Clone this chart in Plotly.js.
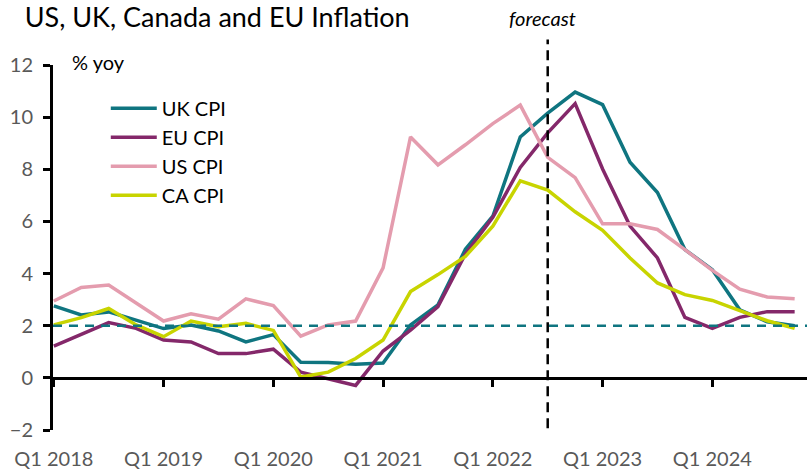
<!DOCTYPE html>
<html>
<head>
<meta charset="utf-8">
<script src="https://cdn.plot.ly/plotly-3.0.1.min.js"></script>
<style>
  html, body { margin: 0; padding: 0; background: #fff; }
  #graph { width: 808px; height: 471px; }
</style>
</head>
<body>
<div id="graph"></div>
<script>
var quarters = ['2018 Q1','2018 Q2','2018 Q3','2018 Q4',
                '2019 Q1','2019 Q2','2019 Q3','2019 Q4',
                '2020 Q1','2020 Q2','2020 Q3','2020 Q4',
                '2021 Q1','2021 Q2','2021 Q3','2021 Q4',
                '2022 Q1','2022 Q2','2022 Q3','2022 Q4',
                '2023 Q1','2023 Q2','2023 Q3','2023 Q4',
                '2024 Q1','2024 Q2','2024 Q3','2024 Q4'];

var tickQuarters = ['2018 Q1','2019 Q1','2020 Q1','2021 Q1','2022 Q1','2023 Q1','2024 Q1'];
var tickLabels = ['Q1 2018','Q1 2019','Q1 2020','Q1 2021','Q1 2022','Q1 2023','Q1 2024'];

var ukCpi = [2.76, 2.41, 2.53, 2.22, 1.89, 2.03, 1.80, 1.38, 1.66, 0.60, 0.59, 0.52, 0.57, 2.03,
             2.80, 4.93, 6.20, 9.24, 10.15, 10.96, 10.48, 8.27, 7.11, 4.92, 4.15, 2.61, 2.15, 2.00];
var euCpi = [1.22, 1.68, 2.12, 1.90, 1.45, 1.38, 0.93, 0.93, 1.10, 0.22, -0.02, -0.29, 1.03, 1.83,
             2.73, 4.75, 6.16, 8.07, 9.40, 10.52, 8.01, 5.82, 4.60, 2.32, 1.90, 2.32, 2.54, 2.54];
var usCpi = [2.95, 3.47, 3.56, 2.86, 2.18, 2.46, 2.25, 3.03, 2.77, 1.60, 2.03, 2.18, 4.22, 9.24,
             8.17, 8.94, 9.75, 10.46, 8.46, 7.68, 5.91, 5.91, 5.69, 4.92, 4.12, 3.40, 3.10, 3.03];
var caCpi = [2.03, 2.31, 2.66, 2.03, 1.58, 2.18, 1.96, 2.09, 1.82, 0.03, 0.22, 0.74, 1.45, 3.31,
             3.96, 4.66, 5.82, 7.56, 7.20, 6.37, 5.66, 4.60, 3.64, 3.19, 2.97, 2.57, 2.19, 1.90];

var target = 2;          // inflation target, dashed line
var forecastStart = 18;  // index of 2022 Q3

var font = 'Lato, "Liberation Sans", sans-serif';

var data = [{
	x: quarters, y: ukCpi, type: 'scatter', mode: 'lines',
	line: {color: '#0f7580', width: 3.5}, name: 'UK CPI'
},{
	x: quarters, y: euCpi, type: 'scatter', mode: 'lines',
	line: {color: '#84286a', width: 3.5}, name: 'EU CPI'
},{
	x: quarters, y: usCpi, type: 'scatter', mode: 'lines',
	line: {color: '#e49cae', width: 3.5}, name: 'US CPI'
},{
	x: quarters, y: caCpi, type: 'scatter', mode: 'lines',
	line: {color: '#c8d400', width: 3.5}, name: 'CA CPI'
}];

var layout = {
	width: 808, height: 471,
	margin: {l: 53, r: 1, t: 65, b: 41},
	paper_bgcolor: '#fff', plot_bgcolor: '#fff',
	font: {family: font, size: 20, color: '#000'},
	title: {
		text: 'US, UK, Canada and EU Inflation',
		font: {family: font, size: 27, color: '#000'},
		x: 0.507, xanchor: 'right', xref: 'container',
		y: 0.962, yanchor: 'middle', yref: 'container'
	},
	showlegend: true,
	legend: {
		x: 0.07, y: 0.935, xanchor: 'left', yanchor: 'top',
		bgcolor: 'rgba(0,0,0,0)', font: {family: font, size: 20, color: '#000'},
		tracegroupgap: 0, itemwidth: 46
	},
	xaxis: {
		type: 'category',
		range: [-0.03, 27.45],
		anchor: 'free', position: 1 / 7,
		showline: true, linecolor: '#000', linewidth: 3,
		showgrid: false, zeroline: false,
		ticks: 'outside', ticklen: 7, tickwidth: 3, tickcolor: '#000',
		tickvals: tickQuarters, ticktext: tickLabels,
		ticklabelstandoff: 55,
		tickfont: {family: font, size: 20, color: '#595959'}
	},
	yaxis: {
		range: [-2, 12],
		showline: true, linecolor: '#000', linewidth: 3,
		showgrid: false, zeroline: false,
		ticks: 'outside', ticklen: 7, tickwidth: 3, tickcolor: '#000',
		tickvals: [-2, 0, 2, 4, 6, 8, 10, 12],
		ticklabelstandoff: 6,
		tickfont: {family: font, size: 20, color: '#595959'}
	},
	shapes: [{
		type: 'line', xref: 'paper', yref: 'y',
		x0: 0, x1: 1, y0: target, y1: target,
		line: {color: '#0f7580', width: 2.5, dash: '9px,7px'}
	},{
		type: 'line', xref: 'x', yref: 'paper',
		x0: forecastStart, x1: forecastStart, y0: 0.005, y1: 1.07,
		line: {color: '#000', width: 2.5, dash: '10px,6px'}
	}],
	annotations: [{
		text: '% yoy', xref: 'paper', yref: 'paper',
		x: 0.022, y: 1.008, xanchor: 'left', yanchor: 'middle',
		showarrow: false, font: {family: font, size: 20, color: '#000'}
	},{
		text: '<i>forecast</i>', xref: 'x', yref: 'paper',
		x: forecastStart - 0.2, y: 1.13, xanchor: 'center', yanchor: 'middle',
		showarrow: false, font: {family: font, size: 20, color: '#000'}
	}]
};

Plotly.newPlot('graph', data, layout, {displayModeBar: false, staticPlot: true});
</script>
</body>
</html>
